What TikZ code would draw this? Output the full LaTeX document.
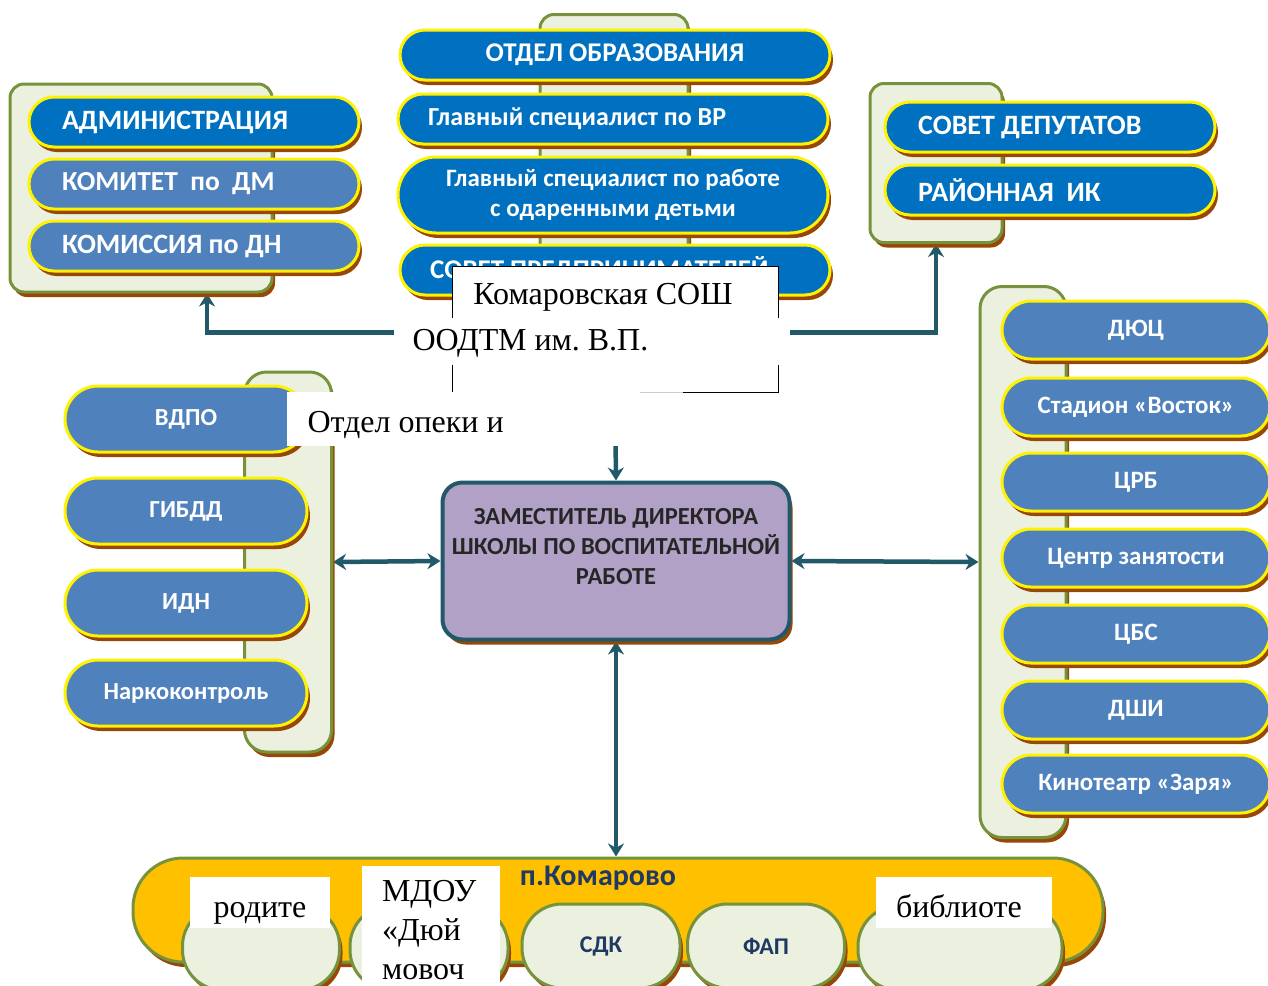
\documentclass[tikz,border=0pt]{standalone}
\usepackage{fontspec}
\setmainfont{Liberation Serif}
\newfontfamily\calfont{Carlito}
\usetikzlibrary{shadows, arrows.meta}
\definecolor{dblue}{HTML}{0070C0}
\definecolor{sblue}{HTML}{4F81BD}
\definecolor{brn}{HTML}{984806}
\definecolor{pgreen}{HTML}{EBF1DE}
\definecolor{oliv}{HTML}{76923C}
\definecolor{tealc}{HTML}{215968}
\definecolor{lilac}{HTML}{B2A1C7}
\definecolor{gold}{HTML}{FFC000}
\definecolor{navyc}{HTML}{1F3864}
\pgfdeclarelayer{bg}
\pgfsetlayers{bg,main}
\tikzset{ sh/.style = { drop shadow = {shadow xshift=3pt, shadow yshift=-5pt, fill=brn, opacity=1}
                      },
          fs/.style = { font = \calfont\bfseries\fontsize{#1}{30}\selectfont
                      },
          pl/.style = { rounded corners = 25pt
                      , draw           = yellow
                      , line width     = 3pt
                      , fill           = sblue
                      , text           = white
                      , inner sep      = 0pt
                      , minimum height = 50pt
                      , sh
                      },
          pan/.style = { rounded corners = 14pt
                       , draw       = oliv
                       , line width = 3pt
                       , fill       = pgreen
                       , inner sep  = 0pt
                       , sh
                       },
          wb/.style = { fill      = white
                      , inner sep = 0pt
                      , font      = \fontsize{32}{39}\selectfont
                      },
          ar/.style = { draw       = tealc
                      , line width = 4.5pt
                      , -{Stealth[length=13pt, width=16pt]}
                      },
          ar2/.style = { ar
                       , {Stealth[length=13pt, width=16pt]}-{Stealth[length=13pt, width=16pt]}
                       }
        }
\frenchspacing
\begin{document}
\begin{tikzpicture}[x=1pt, y=-1pt]
\useasboundingbox (0,0) rectangle (1268,985);
% left top
\node[pan, minimum width=262, minimum height=208] (lp) at (141,188) {};
\node[pl, fill=dblue, fs=28, minimum width=330, text width=264, align=flush left] (adm) at (194,122) {АДМИНИСТРАЦИЯ};
\node[pl, fs=27.5, minimum width=330, text width=264, align=flush left] (kdm) at (194,184) {КОМИТЕТ\ \ по\ \ ДМ};
\node[pl, fs=28, minimum width=330, text width=264, align=flush left] (kdn) at (194,246) {КОМИССИЯ по ДН};
% centre top
\node[pan, minimum width=148, minimum height=275] (cp) at (614,152) {};
\node[pl, fill=dblue, fs=27, minimum width=430] (otd) at (615,55) {ОТДЕЛ ОБРАЗОВАНИЯ};
\node[pl, fill=dblue, fs=26, minimum width=430, text width=370, align=flush left] (gvr) at (613,119) {Главный специалист по ВР};
\node[pl, fill=dblue, fs=25, rounded corners=38pt, minimum width=430, minimum height=76, align=center] (god) at (613,195) {Главный специалист по работе\\с одаренными детьми};
\node[pl, fill=dblue, fs=27, minimum width=430, text width=370, align=flush left] (spr) at (615,270) {СОВЕТ ПРЕДПРИНИМАТЕЛЕЙ};
% right top
\node[pan, minimum width=132, minimum height=159] (rp) at (936,163) {};
\node[pl, fill=dblue, fs=28, minimum width=330, text width=264, align=flush left] (dep) at (1050,127) {СОВЕТ ДЕПУТАТОВ};
\node[pl, fill=dblue, fs=28, minimum width=330, text width=264, align=flush left] (rik) at (1050,190) {РАЙОННАЯ\ \ ИК};
% left middle
\node[pan, rounded corners=22pt, minimum width=87, minimum height=380] (lm) at (288,562) {};
\node[pl, fs=24.5, rounded corners=33pt, minimum width=242, minimum height=66] (vdpo) at (186,419) {ВДПО};
\node[pl, fs=24.5, rounded corners=33pt, minimum width=242, minimum height=66] (gibdd) at (186,511) {ГИБДД};
\node[pl, fs=24.5, rounded corners=33pt, minimum width=242, minimum height=66] (idn) at (186,603) {ИДН};
\node[pl, fs=24.5, rounded corners=33pt, minimum width=242, minimum height=66] (nark) at (186,693) {Наркоконтроль};
% right middle
\node[pan, rounded corners=22pt, minimum width=86, minimum height=551] (rm) at (1023,562) {};
\node[pl, fs=25, rounded corners=29pt, minimum width=268, minimum height=58] (dyuc) at (1136,330) {ДЮЦ};
\node[pl, fs=25, rounded corners=29pt, minimum width=268, minimum height=58] (stad) at (1136,407) {Стадион «Восток»};
\node[pl, fs=25, rounded corners=29pt, minimum width=268, minimum height=58] (crb) at (1136,482) {ЦРБ};
\node[pl, fs=25, rounded corners=29pt, minimum width=268, minimum height=58] (czan) at (1136,558) {Центр занятости};
\node[pl, fs=25, rounded corners=29pt, minimum width=268, minimum height=58] (cbs) at (1136,634) {ЦБС};
\node[pl, fs=25, rounded corners=29pt, minimum width=268, minimum height=58] (dshi) at (1136,710) {ДШИ};
\node[pl, fs=25, rounded corners=29pt, minimum width=268, minimum height=58] (kino) at (1136,784) {Кинотеатр «Заря»};
% centre
\node[sh, draw=tealc, line width=4pt, fill=lilac, rounded corners=20pt, fs=24.5, text=black!85, align=center,
      minimum width=347, minimum height=157] (zam) at (616,561) {ЗАМЕСТИТЕЛЬ ДИРЕКТОРА\\ШКОЛЫ ПО ВОСПИТАТЕЛЬНОЙ\\РАБОТЕ\\~};
% bottom
\node[pan, fill=gold, rounded corners=50pt, minimum width=970, minimum height=104] (band) at (618,910) {};
\node[fs=30, text=navyc] (kmr) at (598,878) {п.Комарово};
\node[pan, rounded corners=40pt, minimum width=157, minimum height=84] (b1) at (261,948) {};
\node[pan, rounded corners=40pt, minimum width=158, minimum height=84] (b2) at (429,948) {};
\node[pan, rounded corners=40pt, minimum width=158, minimum height=84, fs=24, text=navyc] (sdk) at (601,946) {СДК};
\node[pan, rounded corners=40pt, minimum width=157, minimum height=84, fs=24, text=navyc] (fap) at (766,946) {ФАП};
\node[pan, rounded corners=40pt, minimum width=204, minimum height=84] (b5) at (960,948) {};
% white boxes
\node[wb, draw=black, line width=1pt, minimum width=326, minimum height=126] (sosh) at (615,329) {};
\node[wb] (soshT) at (603,297) {Комаровская СОШ};
\node[wb, anchor=base, text height=32, text depth=15, text width=359, align=flush left, inner xsep=18pt] (oodtm) at (592,350) {ООДТМ им. В.П.};
\draw[black!20, line width=1pt] (sosh.south west) -- ++(231,0);
\node[wb, anchor=base, text height=40, text depth=14, text width=311, align=flush left, inner xsep=21pt] (opk) at (463,432) {Отдел опеки и};
\node[wb, anchor=base, text height=40, text depth=11, text width=140, align=center] (rod) at (260,917) {родите};
\node[wb, minimum width=138, minimum height=128, text width=98, align=flush left] (mdou) at (431,930) {МДОУ\\«Дюй\\мовоч};
\node[wb, anchor=base, text height=40, text depth=11, text width=136, align=flush left, inner xsep=20pt] (bib) at (964,917) {библиоте};
% links
\begin{pgfonlayer}{bg}
\fill[white] (0,0) rectangle (1268,985);
\draw[ar] (oodtm.west) ++(0,-9) -| ([xshift=66pt]lp.south);
\draw[ar] (oodtm.east) ++(0,-9) -| (rp.south);
\draw[ar] (sosh.south) -- (zam.north);
\draw[ar2] (zam.south) -- (zam.south |- band.north);
\draw[ar2] (lm.east) -- (zam.west);
\draw[ar2] (zam.east) -- (rm.west);
%\draw[blue, thin] (lm.east) -- (zam.west);
\end{pgfonlayer}
\end{tikzpicture}
\end{document}
